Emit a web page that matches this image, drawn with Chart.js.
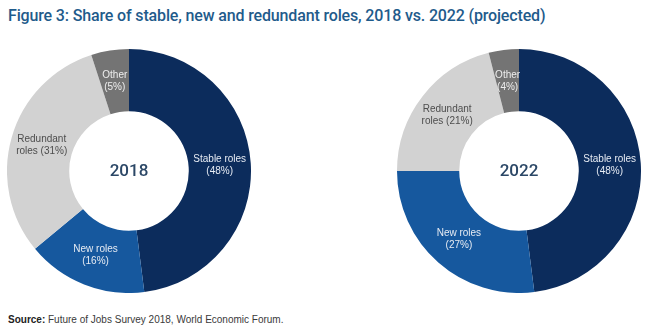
<!DOCTYPE html>
<html>
<head>
<meta charset="utf-8">
<script src="https://cdn.jsdelivr.net/npm/chart.js@4/dist/chart.umd.min.js"></script>
<style>
  html, body { margin: 0; padding: 0; background: #ffffff; }
  body { width: 650px; height: 330px; position: relative; overflow: hidden; font-family: "Liberation Sans", Arial, sans-serif; }
  #title { position: absolute; left: 8px; top: 6px; font-family: Roboto, "Liberation Sans", sans-serif; font-weight: 500; font-size: 16px; color: #1f5b8b; white-space: nowrap; letter-spacing: -0.15px; }
  #source { position: absolute; left: 8px; top: 314px; font-size: 10px; color: #3a3a3a; white-space: nowrap; }
  #source b { color: #222; }
  canvas { position: absolute; }
  #c1 { left: 7px; top: 49px; }
  #c2 { left: 397px; top: 49px; }
</style>
</head>
<body>
<div id="title">Figure 3: Share of stable, new and redundant roles, 2018 vs. 2022 (projected)</div>
<canvas id="c1" width="244" height="244"></canvas>
<canvas id="c2" width="244" height="244"></canvas>
<div id="source"><b>Source:</b> Future of Jobs Survey 2018, World Economic Forum.</div>
<script>
const categories = ['Stable roles', 'New roles', 'Redundant roles', 'Other'];
const share2018 = [48, 16, 31, 5];
const share2022 = [48, 27, 21, 4];
const years = ['2018', '2022'];

const sliceColors = ['#0c2c5c', '#16589e', '#d2d2d2', '#747474'];
const labelColors = ['#e6ebf3', '#e6ebf3', '#4d4d4d', '#eeeeee'];

function labelLines(name, v) {
  if (name === 'Redundant roles') return ['Redundant', 'roles (' + v + '%)'];
  return [name, '(' + v + '%)'];
}

const donutLabels = {
  id: 'donutLabels',
  afterDatasetsDraw(chart, args, opts) {
    const ctx = chart.ctx;
    const meta = chart.getDatasetMeta(0);
    const values = chart.data.datasets[0].data;
    ctx.save();
    ctx.textAlign = 'center';
    ctx.textBaseline = 'middle';
    ctx.font = '10px "Liberation Sans", Arial, sans-serif';
    meta.data.forEach((arc, i) => {
      const p = arc.tooltipPosition();
      const lines = labelLines(chart.data.labels[i], values[i]);
      ctx.fillStyle = labelColors[i];
      ctx.fillText(lines[0], p.x, p.y - 6);
      ctx.fillText(lines[1], p.x, p.y + 6);
    });
    const a = meta.data[0];
    ctx.font = '500 17px Roboto, "Liberation Sans", Arial, sans-serif';
    ctx.fillStyle = '#2b4766';
    ctx.fillText(opts.center, a.x, a.y + 1);
    ctx.restore();
  }
};

function makeChart(id, values, year) {
  return new Chart(document.getElementById(id), {
    type: 'doughnut',
    data: {
      labels: categories,
      datasets: [{
        data: values,
        backgroundColor: sliceColors,
        borderWidth: 0
      }]
    },
    options: {
      responsive: false,
      animation: false,
      cutout: '49%',
      layout: { padding: 0 },
      plugins: {
        legend: { display: false },
        tooltip: { enabled: false },
        donutLabels: { center: year }
      }
    },
    plugins: [donutLabels]
  });
}

makeChart('c1', share2018, years[0]);
makeChart('c2', share2022, years[1]);
</script>
</body>
</html>
